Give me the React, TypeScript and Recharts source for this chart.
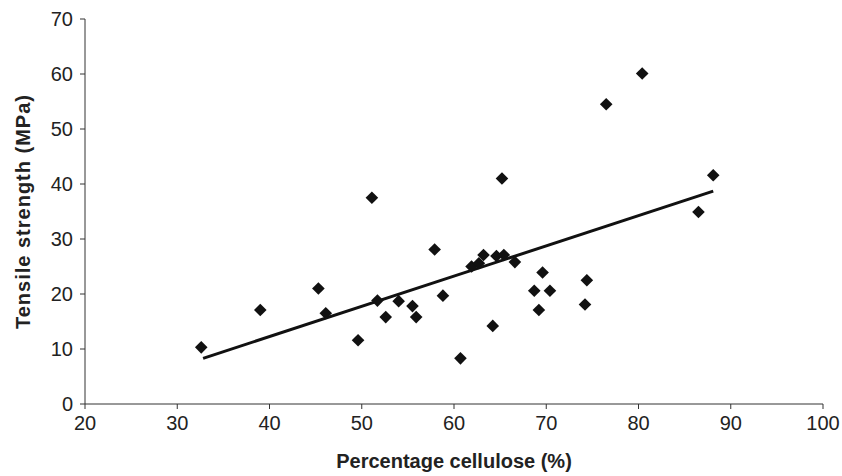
import { ScatterChart, Scatter, XAxis, YAxis, Label } from 'recharts';

// percentage cellulose (%)
const cellulose = [
  32.6, 39.0, 45.3, 46.1, 49.6, 51.1, 51.7, 52.6, 54.0, 55.5, 55.9, 57.9, 58.8,
  60.7, 61.9, 62.7, 63.2, 64.2, 64.6, 65.2, 65.4, 66.6, 68.7, 69.2, 69.6, 70.4,
  74.2, 74.4, 76.5, 80.4, 86.5, 88.1,
];
// tensile strength (MPa)
const strength = [
  10.3, 17.1, 21.0, 16.5, 11.6, 37.5, 18.8, 15.8, 18.7, 17.8, 15.8, 28.1, 19.7,
  8.3, 25.0, 25.6, 27.1, 14.2, 26.9, 41.0, 27.1, 25.8, 20.6, 17.1, 23.9, 20.6,
  18.1, 22.5, 54.5, 60.1, 34.9, 41.6,
];
// linear trend line end points
const trendX = [32.8, 88.1];
const trendY = [8.3, 38.7];

const xTicks = [20, 30, 40, 50, 60, 70, 80, 90, 100];
const yTicks = [0, 10, 20, 30, 40, 50, 60, 70];

const points = cellulose.map((x, i) => ({ x, y: strength[i] }));
const trend = trendX.map((x, i) => ({ x, y: trendY[i] }));

const font = '"Liberation Sans", Arial, Helvetica, sans-serif';

const Diamond = (props: any) => {
  const { cx, cy } = props;
  const r = 6.3;
  return (
    <polygon
      points={`${cx},${cy - r} ${cx + r},${cy} ${cx},${cy + r} ${cx - r},${cy}`}
      fill="#111"
    />
  );
};

export default function App() {
  return (
    <div
      style={{
        position: 'absolute',
        left: 0,
        top: 0,
        width: 842,
        height: 476,
        background: '#fff',
      }}
    >
      <ScatterChart
        width={842}
        height={476}
        margin={{ top: 19, right: 19, bottom: 0, left: 0 }}
      >
        <XAxis
          type="number"
          dataKey="x"
          domain={[20, 100]}
          ticks={xTicks}
          height={72}
          tickSize={5}
          tickMargin={7}
          stroke="#333"
          tick={{ fill: '#222', fontSize: 20, fontFamily: font }}
          allowDataOverflow
        >
          <Label
            value="Percentage cellulose (%)"
            position="insideBottom"
            offset={8}
            fill="#222"
            fontSize={20}
            fontWeight="bold"
            fontFamily={font}
          />
        </XAxis>
        <YAxis
          type="number"
          dataKey="y"
          domain={[0, 70]}
          ticks={yTicks}
          width={85}
          tickSize={5}
          tickMargin={7}
          stroke="#333"
          tick={{ fill: '#222', fontSize: 20, fontFamily: font }}
          allowDataOverflow
        >
          <Label
            value="Tensile strength (MPa)"
            position="center"
            angle={-90}
            dx={-20}
            fill="#222"
            fontSize={20}
            fontWeight="bold"
            fontFamily={font}
            letterSpacing={1}
          />
        </YAxis>
        <Scatter
          data={trend}
          line={{ stroke: '#111', strokeWidth: 3 }}
          shape={() => null}
          isAnimationActive={false}
        />
        <Scatter data={points} shape={<Diamond />} isAnimationActive={false} />
      </ScatterChart>
    </div>
  );
}
